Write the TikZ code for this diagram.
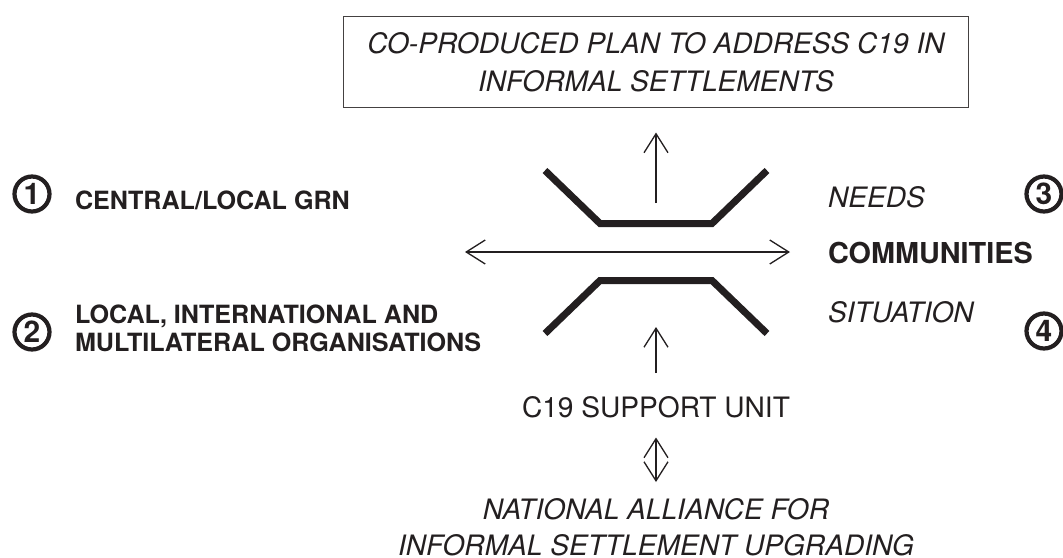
\documentclass[tikz,border=0pt]{standalone}
\usepackage{fontspec}
\setmainfont{TeX Gyre Heros}
\usetikzlibrary{arrows.meta, positioning}
\definecolor{ink}{HTML}{231F20}

\begin{document}
\begin{tikzpicture}[x=0.02cm, y=-0.02cm, line width=.75pt, color=ink, >={Straight Barb[length=0.38cm, width=0.48cm]}]
% Block styles
\tikzstyle{lbl}=[inner sep=0pt, outer sep=0pt, text=ink]
\tikzstyle{plain}=[lbl, font=\fontsize{16pt}{21.6pt}\selectfont]
\tikzstyle{ital}=[lbl, font=\fontsize{16pt}{20.6pt}\selectfont\itshape]
\tikzstyle{heavy}=[lbl, font=\fontsize{14.3pt}{15.9pt}\selectfont\bfseries]
\tikzstyle{num}=[circle, draw=ink, line width=2.4pt, minimum size=0.7cm, inner sep=0pt, font=\fontsize{17pt}{17pt}\selectfont\bfseries]
\tikzstyle{wall}=[draw=ink, line width=0.14cm]
\useasboundingbox (0,0) rectangle (1063,558);
% Plan box
\node[draw=ink!85, line width=.6pt, minimum width=12.52cm, minimum height=1.82cm, inner sep=0pt, align=center, font=\fontsize{16pt}{21.6pt}\selectfont\itshape] (plan) at (656,62) {CO-PRODUCED PLAN TO ADDRESS C19 IN\\INFORMAL SETTLEMENTS};
% Col left
\node[num] (n1) at (32,194) {1};
\node[heavy, anchor=base west] (grn) at (75,209) {CENTRAL/LOCAL GRN};
\node[num] (n2) at (32,332) {2};
\node[heavy, anchor=north west, align=left] (org) at (75,305) {LOCAL, INTERNATIONAL AND\\MULTILATERAL ORGANISATIONS};
% Col right
\node[ital, anchor=base west] (needs) at (828,207) {NEEDS};
\node[lbl, anchor=base west, font=\fontsize{16.4pt}{18pt}\selectfont\bfseries] (com) at (828,263) {COMMUNITIES};
\node[ital, anchor=base west] (sit) at (828,322) {SITUATION};
\node[num] (n3) at (1044,194) {3};
\node[num] (n4) at (1044,331) {4};
% Bottom
\node[plain, anchor=base] (unit) at (656,417) {C19 SUPPORT UNIT};
\node[ital, anchor=north, align=center] (nat) at (656,498) {NATIONAL ALLIANCE FOR\\INFORMAL SETTLEMENT UPGRADING};
% Channel walls
\draw[wall] (545,170.5) -- (600,223.5) -- (712,223.5) -- (767,170.5);
\draw[wall] (545,333.5) -- (600,280.5) -- (712,280.5) -- (767,333.5);
% Arrows
\coordinate (wl) at (465,252);
\coordinate (wr) at (790,252);
\draw[<->] (wl)--(wr);
\coordinate (up) at (656,203);
\draw[->, shorten >=0.49cm] (up)--(plan);
\coordinate (low) at (656,327);
\draw[->, shorten <=0.46cm] (unit)--(low);
\draw[<->, shorten <=0.4cm, shorten >=0.32cm] (unit)--(nat);
\end{tikzpicture}
\end{document}
